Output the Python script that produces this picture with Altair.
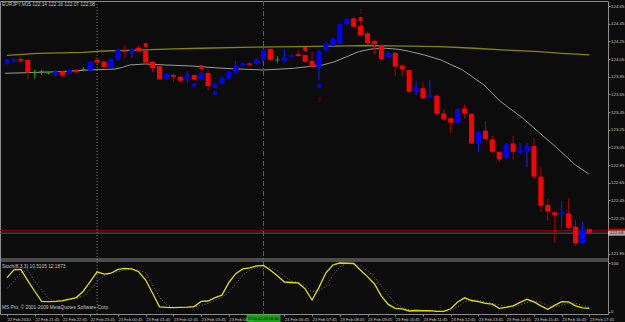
import altair as alt
import pandas as pd

FONT = "Liberation Sans Narrow, Liberation Sans, Arial"
BG = "#0c0c0c"
LBL = "#c8c8c8"
FRAME = "#8c8c8c"

# ---------------- data ----------------
bar_index = list(range(85))

opens = [124.00, 124.03, 124.05, 124.04, 123.90, 123.91, 123.89, 123.87, 123.91, 123.88,
         123.93, 123.93, 123.92, 124.04, 124.02, 123.95, 124.04, 124.145, 124.115, 124.18,
         124.145, 124.02, 123.97, 123.83, 123.87, 123.85, 123.82, 123.87, 123.82, 123.89,
         123.73, 123.77, 123.83, 123.895, 123.98, 124.00, 123.995, 124.045, 124.165, 124.04,
         124.03, 124.075, 124.105, 124.095, 124.03, 123.955, 124.15, 124.20, 124.23, 124.445,
         124.51, 124.425, 124.34, 124.255, 124.21, 124.07, 124.12, 123.975, 123.925, 123.69,
         123.72, 123.615, 123.635, 123.435, 123.38, 123.325, 123.49, 123.43, 123.10, 123.24,
         123.14, 123.00, 122.93, 123.095, 122.99, 123.01, 123.065, 122.72, 122.40, 122.315,
         122.295, 122.305, 122.155, 121.97, 122.125]
closes = [124.04, 124.05, 124.03, 123.90, 123.90, 123.91, 123.89, 123.91, 123.87, 123.93,
          123.90, 123.93, 124.02, 124.01, 123.96, 124.05, 124.16, 124.13, 124.165, 124.14,
          124.01, 123.95, 123.82, 123.88, 123.85, 123.805, 123.875, 123.82, 123.895, 123.745,
          123.765, 123.84, 123.905, 123.97, 124.00, 123.985, 124.045, 124.15, 124.04, 124.04,
          124.07, 124.095, 124.085, 124.02, 123.965, 124.14, 124.23, 124.285, 124.445, 124.50,
          124.415, 124.32, 124.23, 124.22, 124.05, 124.12, 123.965, 123.935, 123.68, 123.73,
          123.605, 123.645, 123.43, 123.37, 123.33, 123.485, 123.435, 123.095, 123.23, 123.145,
          123.00, 122.915, 123.085, 123.00, 123.02, 123.07, 122.72, 122.39, 122.325, 122.285,
          122.32, 122.14, 121.965, 122.125, 122.08]
highs = [124.05, 124.06, 124.08, 124.04, 123.93, 123.93, 123.91, 123.92, 123.91, 123.93,
         123.93, 123.96, 124.02, 124.05, 124.03, 124.05, 124.17, 124.21, 124.17, 124.21,
         124.15, 124.03, 123.97, 123.89, 123.89, 123.85, 123.91, 123.87, 123.90, 123.93,
         123.77, 123.85, 123.91, 124.03, 124.01, 124.01, 124.05, 124.16, 124.17, 124.08,
         124.16, 124.10, 124.15, 124.10, 124.13, 124.15, 124.24, 124.29, 124.45, 124.51,
         124.53, 124.53, 124.36, 124.27, 124.22, 124.13, 124.13, 123.99, 123.93, 123.805,
         123.79, 123.81, 123.655, 123.48, 123.39, 123.49, 123.54, 123.44, 123.24, 123.35,
         123.18, 123.00, 123.10, 123.18, 123.10, 123.10, 123.16, 122.83, 122.47, 122.33,
         122.444, 122.475, 122.23, 122.21, 122.13]
lows = [123.99, 124.01, 124.03, 123.82, 123.83, 123.87, 123.88, 123.86, 123.84, 123.88,
        123.90, 123.91, 123.91, 124.01, 123.96, 123.94, 124.03, 124.06, 124.06, 124.14,
        124.00, 123.90, 123.82, 123.82, 123.79, 123.79, 123.78, 123.81, 123.81, 123.70,
        123.72, 123.76, 123.82, 123.89, 123.97, 123.98, 123.99, 124.04, 124.03, 124.01,
        124.02, 124.07, 124.08, 124.01, 123.95, 123.81, 124.14, 124.19, 124.22, 124.44,
        124.41, 124.31, 124.22, 124.105, 124.04, 124.06, 123.86, 123.86, 123.67, 123.643,
        123.60, 123.61, 123.42, 123.352, 123.21, 123.32, 123.38, 123.09, 123.00, 123.14,
        122.984, 122.89, 122.92, 122.91, 122.98, 122.825, 122.69, 122.323, 122.22, 121.97,
        122.124, 122.13, 121.935, 121.96, 122.07]

# slow moving average (olive) read at these bar positions
ma_slow_i = [0, 4.4, 11, 14, 18.6, 24, 28, 34, 42, 49.4, 52, 55.5, 62.5, 67.4, 72, 76.7, 80, 84]
ma_slow_v = [124.092, 124.115, 124.126, 124.141, 124.152, 124.164, 124.172, 124.183, 124.19,
             124.2, 124.203, 124.198, 124.19, 124.172, 124.152, 124.133, 124.115, 124.096]

# fast moving average (gray)
ma_fast_i = [-0.3, 2.6, 7.5, 11.8, 15.7, 16.7, 17.7, 20, 22.8, 26.7, 28, 31.3, 37, 41.3, 43.3,
             45.1, 47, 49, 50.8, 52.6, 54.6, 56.5, 57.9, 60.2, 62.6, 65.7, 68.8, 71.1, 74.4,
             77.3, 79.1, 82, 83.9]
ma_fast_v = [123.889, 123.895, 123.907, 123.926, 123.937, 123.957, 123.983, 123.994, 123.983,
             123.971, 123.963, 123.945, 123.926, 123.945, 123.963, 123.975, 124.013, 124.076,
             124.135, 124.164, 124.172, 124.16, 124.139, 124.096, 124.039, 123.926, 123.756,
             123.575, 123.38, 123.18, 123.06, 122.85, 122.75]

# stochastic (8,3,3)
stoch_k = [70, 86, 87, 64, 42, 21, 20.5, 21, 22.6, 26,
           29, 42, 62, 82, 77, 79, 87, 89, 88, 82,
           65, 38, 10, 9, 8.5, 9, 9.5, 10.5, 21, 22,
           29, 34, 60, 78, 88, 90, 94, 95, 85, 74,
           61, 60, 59, 47, 24, 50, 80, 96, 100, 99.5,
           99, 85, 72, 57, 32, 15, 7, 6, 1.5, 2.5,
           2, 2, 0.5, 0.5, 6, 20, 28.5, 23, 20.5, 17,
           15.5, 7, 9, 12, 19, 25.5, 20, 12, 5, 13,
           20.5, 20, 12, 8, 7]
stoch_d = [48, 62, 80, 85, 62, 45, 26, 22, 21.5, 24,
           28, 32, 45, 62, 74, 79, 82, 86, 86, 86,
           80, 55, 30, 14, 9, 8.5, 8.5, 9.5, 13, 17,
           23, 29, 40, 57, 75, 85, 91, 92, 91, 84,
           73, 63, 60, 53, 41, 43, 52, 75, 92, 99,
           99, 94, 84, 71, 53, 34, 17, 9, 4, 3,
           2, 2, 1.5, 1, 3, 10, 20, 24, 24, 20,
           17, 14, 11, 10, 14, 19, 22, 19, 12, 10,
           13, 18, 17, 13, 9]

# signal squares and fractals
sell_sig_i = [20, 28, 43, 51]
sell_sig_p = [124.209, 123.96, 124.164, 124.503]
buy_sig_i = [27, 30, 45]
buy_sig_p = [123.756, 123.666, 123.745]
fractal_up_i = [51]
fractal_up_p = [124.586]
fractal_dn_i = [45]
fractal_dn_p = [123.587]

day_sep_i = [13]
vline_i = [37]
vline_label = ["2010.02.23 06:00"]
ask_price = [122.11]
bid_price = [122.08]

price_ticks = [124.65, 124.45, 124.25, 124.05, 123.85, 123.65, 123.45, 123.25, 123.05,
               122.85, 122.65, 122.45, 122.25, 121.85]
time_ticks = [0, 4, 8, 12, 16, 20, 24, 28, 32, 40, 44, 48, 52, 56, 60, 64, 68, 72, 76, 80, 84]
time_labels = ["22 Feb 2010", "22 Feb 21:45", "22 Feb 22:45", "22 Feb 23:45", "23 Feb 00:45",
               "23 Feb 01:45", "23 Feb 02:45", "23 Feb 03:45", "23 Feb 04:45", "23 Feb 05:45",
               "23 Feb 06:45", "23 Feb 07:45", "23 Feb 08:45", "23 Feb 09:45", "23 Feb 10:45",
               "23 Feb 11:45", "23 Feb 12:45", "23 Feb 13:45", "23 Feb 14:45", "23 Feb 15:45",
               "23 Feb 16:45", "23 Feb 17:45"]
header_text = "EURJPY,M15  122.14 122.16 122.07 122.08"
stoch_text = "Stoch(8,3,3) 10.5105 12.1873"
footer_text = "MS Pro, \u00a9 2001-2009 MetaQuotes Software Corp."

# ---------------- frames ----------------
candles = pd.DataFrame({"i": bar_index, "o": opens, "h": highs, "l": lows, "c": closes})
candles["dir"] = ["bull" if c > o else ("bear" if c < o else "doji")
                  for o, c in zip(opens, closes)]
slow_df = pd.DataFrame({"i": ma_slow_i, "v": ma_slow_v})
fast_df = pd.DataFrame({"i": ma_fast_i, "v": ma_fast_v})
stoch_df = pd.DataFrame({"i": bar_index, "k": stoch_k, "d": stoch_d})
sell_df = pd.DataFrame({"i": sell_sig_i, "p": sell_sig_p})
buy_df = pd.DataFrame({"i": buy_sig_i, "p": buy_sig_p})
fu_df = pd.DataFrame({"i": fractal_up_i, "p": fractal_up_p, "t": ["\u21e9"]})
fd_df = pd.DataFrame({"i": fractal_dn_i, "p": fractal_dn_p, "t": ["\u21e7"]})
sep_df = pd.DataFrame({"i": day_sep_i})
vl_df = pd.DataFrame({"i": vline_i, "t": vline_label})
ask_df = pd.DataFrame({"p": ask_price, "t": [f"{v:.2f}" for v in ask_price]})
bid_df = pd.DataFrame({"p": bid_price, "t": [f"{v:.2f}" for v in bid_price]})
one = pd.DataFrame({"a": [0]})

W, H = 608, 313
XS = alt.Scale(domain=[-0.284, 85.96], nice=False, zero=False)
PS = alt.Scale(domain=[121.1658, 124.7066], nice=False, zero=False)
SS = alt.Scale(domain=[-4.72, 638.0], nice=False, zero=False)

label_expr = "[" + ",".join(f"'{s}'" for s in time_labels) + "][round(datum.value/4)]"
xax = alt.Axis(orient="bottom", values=time_ticks, labelExpr=label_expr, labelFont=FONT,
               labelFontSize=4.1, labelColor=LBL, labelAlign="left", labelBaseline="top",
               labelPadding=1, tickSize=2, tickColor=FRAME, domain=False, grid=False,
               labelOverlap=False, labelFlush=False, title=None)
yax = alt.Axis(orient="right", values=price_ticks, format=".2f", labelFont=FONT,
               labelFontSize=4.4, labelColor=LBL, labelAlign="left", labelBaseline="middle",
               labelPadding=0.5, tickSize=2, tickColor=FRAME, domain=False, grid=False,
               labelOverlap=False, labelFlush=False, labelLimit=20, title=None)
sax = alt.Axis(orient="right", values=[0, 100], labelFont=FONT, labelFontSize=4.4,
               labelColor=LBL, labelAlign="left", labelBaseline="middle", labelPadding=0.5,
               tickSize=2, tickColor=FRAME, domain=False, grid=False, labelOverlap=False,
               labelFlush=False, title=None)


def X(f="i"):
    return alt.X(f"{f}:Q", scale=XS, axis=xax)


def P(f):
    return alt.Y(f"{f}:Q", scale=PS, axis=yax)


def P2(f):
    return alt.Y2(f"{f}:Q")


base = alt.Chart(candles)
layers = []
# day separator & vertical line (behind candles)
layers.append(alt.Chart(sep_df).mark_rule(color="#7a7a7a", strokeDash=[1, 2], strokeWidth=1)
              .encode(x=X(), y=alt.value(0), y2=alt.value(H)))
layers.append(alt.Chart(vl_df).mark_rule(color="#00a000", strokeDash=[5, 2, 1, 2], strokeWidth=1)
              .encode(x=X(), y=alt.value(0), y2=alt.value(H + 2)))
# moving averages
layers.append(alt.Chart(slow_df).mark_line(color="#85850e", strokeWidth=1.3)
              .encode(x=X(), y=P("v")))
layers.append(alt.Chart(fast_df).mark_line(color="#9a9a9a", strokeWidth=1)
              .encode(x=X(), y=P("v")))
# bid / ask lines
layers.append(alt.Chart(ask_df).mark_rule(color="#8c0000", strokeWidth=1)
              .encode(y=P("p"), x=alt.value(0), x2=alt.value(W)))
layers.append(alt.Chart(bid_df).mark_rule(color="#5a5a5a", strokeWidth=1)
              .encode(y=P("p"), x=alt.value(0), x2=alt.value(W)))
# candles
for d, wick_col, body_col in [("bull", "#1a1aff", "#0000ff"), ("bear", "#b00000", "#ff0000"),
                              ("doji", "#00c000", "#00c000")]:
    sub = base.transform_filter(alt.datum.dir == d)
    layers.append(sub.mark_rule(color=wick_col, strokeWidth=1)
                  .encode(x=X(), y=P("l"), y2=P2("h")))
    if d == "doji":
        layers.append(sub.mark_tick(color=body_col, orient="horizontal", size=5, thickness=1)
                      .encode(x=X(), y=P("o")))
    else:
        layers.append(sub.mark_bar(color=body_col, size=5)
                      .encode(x=X(), y=P("o"), y2=P2("c")))
# signals
layers.append(alt.Chart(sell_df).mark_square(color="#ff0000", size=14, opacity=1)
              .encode(x=X(), y=P("p")))
layers.append(alt.Chart(buy_df).mark_square(color="#0000ff", size=14, opacity=1)
              .encode(x=X(), y=P("p")))
layers.append(alt.Chart(fu_df).mark_text(color="#8b0000", font="DejaVu Sans", fontSize=7)
              .encode(x=X(), y=P("p"), text="t:N"))
layers.append(alt.Chart(fd_df).mark_text(color="#8b0000", font="DejaVu Sans", fontSize=7)
              .encode(x=X(), y=P("p"), text="t:N"))
# price boxes on the right axis
layers.append(alt.Chart(ask_df).mark_tick(color="#ff0000", size=17, thickness=4)
              .encode(y=P("p"), x=alt.value(W + 8.5)))
layers.append(alt.Chart(bid_df).mark_tick(color="#e8e8e8", size=17, thickness=5)
              .encode(y=P("p"), x=alt.value(W + 8.5)))
layers.append(alt.Chart(bid_df).mark_text(color="#202020", font=FONT, fontSize=4.4, align="left",
                                          baseline="middle")
              .encode(y=P("p"), x=alt.value(W + 2), text="t:N"))
# panel separator
for yy in (H - 55, H - 53):
    layers.append(alt.Chart(one).mark_rule(color=FRAME, strokeWidth=1)
                  .encode(x=alt.value(0), x2=alt.value(W), y=alt.value(yy)))
# texts
layers.append(alt.Chart(one).mark_text(color=LBL, font=FONT, fontSize=4.8, align="left",
                                       baseline="middle", text=header_text)
              .encode(x=alt.value(2), y=alt.value(4)))
# time label box for vertical line
layers.append(alt.Chart(vl_df).mark_tick(color="#22dd22", thickness=34, size=8)
              .encode(x=X(), y=alt.value(H + 4.5)))
layers.append(alt.Chart(vl_df).mark_text(color="#000000", font=FONT, fontSize=4.0,
                                         baseline="middle")
              .encode(x=X(), y=alt.value(H + 4.5), text="t:N"))

main = alt.layer(*layers)

S = lambda f: alt.Y(f"{f}:Q", scale=SS, axis=sax)
st_layers = [
    alt.Chart(stoch_df).mark_line(color="#7a7a7a", strokeDash=[1, 2], strokeWidth=1)
    .encode(x=X(), y=S("d")),
    alt.Chart(stoch_df).mark_line(color="#e0e000", strokeWidth=1.3)
    .encode(x=X(), y=S("k")),
    alt.Chart(one).mark_text(color=LBL, font=FONT, fontSize=4.8, align="left",
                             baseline="middle", text=stoch_text)
    .encode(x=alt.value(2), y=alt.value(H - 47)),
    alt.Chart(one).mark_text(color=LBL, font=FONT, fontSize=4.8, align="left",
                             baseline="middle", text=footer_text)
    .encode(x=alt.value(2), y=alt.value(H - 6)),
]
stoch = alt.layer(*st_layers)

chart = (
    alt.layer(main, stoch)
    .resolve_scale(y="independent")
    .properties(width=W, height=H, background=BG,
                padding={"left": 0, "top": 1, "right": 17, "bottom": 8},
                autosize=alt.AutoSizeParams(type="none"))
    .configure_view(stroke=FRAME, strokeWidth=1, fill=BG)
)

chart.save("out.html", embed_options={"renderer": "svg", "actions": False})
